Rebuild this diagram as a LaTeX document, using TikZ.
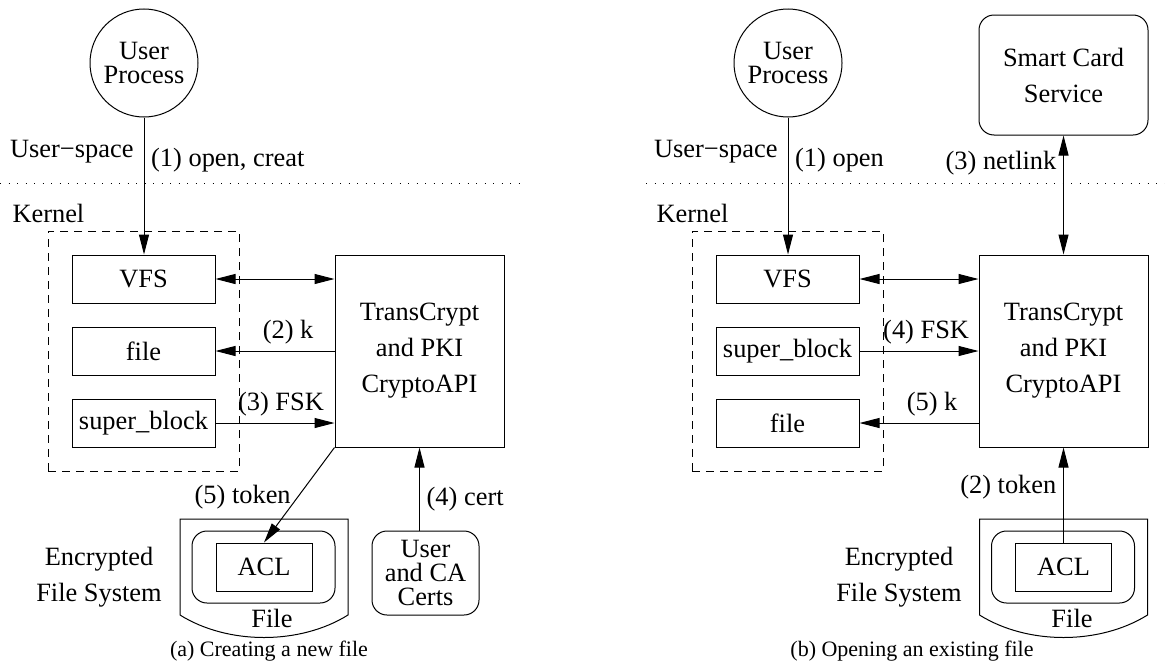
\documentclass[tikz,border=0pt]{standalone}
\usepackage{fontspec}
\setmainfont{Liberation Serif}
\usetikzlibrary{arrows.meta}

\newcommand{\figfont}{\fontsize{13.2}{18}\selectfont}
\newcommand{\figtight}{\fontsize{13.2}{12.2}\selectfont}
\newcommand{\capfont}{\fontsize{11}{13}\selectfont}

\tikzstyle{box} = [draw, minimum width=71.5pt, minimum height=24pt, inner sep=0pt]
\tikzstyle{crypto} = [draw, minimum width=84.5pt, minimum height=96pt, align=center]
\tikzstyle{proc} = [draw, circle, minimum size=54pt, inner sep=0pt, align=center, font=\figtight]
\tikzstyle{kern} = [draw, dash pattern=on 4pt off 3pt, minimum width=95.5pt, minimum height=120pt]
\tikzstyle{rbox} = [draw, rounded corners=7.5pt, inner sep=0pt, align=center]
\tikzstyle{txt} = [inner sep=0pt, align=center]
\tikzstyle{arr} = [-{Triangle[length=10pt,width=5pt]}]
\tikzstyle{biarr} = [{Triangle[length=10pt,width=5pt]}-{Triangle[length=10pt,width=5pt]}]
\tikzstyle{layerline} = [dash pattern=on 0.5pt off 3.75pt]

\begin{document}
\begin{tikzpicture}[x=0.5pt, y=-0.5pt, line width=0.5pt, font=\figfont]
\useasboundingbox (0,0) rectangle (1165,664);

% (a) creating a new file
\node[proc] (up1) at (144,63) {User\\Process};
\node[kern] (kern1) at (143.5,351) {};
\node[box] (vfs1) at (143.5,279) {VFS};
\node[box] (file1) at (143.5,351) {file};
\node[box] (sb1) at (143.5,423) {super\_block};
\node[crypto] (tc1) at (419.5,351) {TransCrypt\\and PKI\\CryptoAPI};
\node[rbox, minimum width=53.5pt, minimum height=42pt, font=\figtight] (certs) at (425.5,573) {User\\and CA\\Certs};
\node[rbox, minimum width=71.5pt, minimum height=36pt] (efsin1) at (263.5,567) {};
\node[box, minimum width=48pt] (acl1) at (264,567) {ACL};
\draw (180,519) -- (348,519) -- (348,615) .. controls (300,645) and (228,645) .. (180,615) -- cycle;
\node[txt] (filelbl1) at (272,618) {File};
\node[txt] (efs1) at (99,577) {Encrypted\\File System};
\node[txt, font=\capfont] (cap1) at (269,651) {(a) Creating a new file};
\node[txt, anchor=east] (us1) at (134,152) {User−space};
\node[txt, anchor=west] (kn1) at (12,213) {Kernel};
\draw[layerline] (0,183) -- (522,183);

\draw[arr] (up1.south) -- node[pos=0.31, right] {(1) open, creat} (up1.south |- vfs1.north);
\draw[biarr] (vfs1.east) -- (vfs1.east -| tc1.west);
\draw[arr] (file1.east -| tc1.west) -- node[pos=0.39, above] {(2) k} (file1.east);
\draw[arr] (sb1.east) -- node[pos=0.55, above] {(3) FSK} (sb1.east -| tc1.west);
\draw[arr] (certs.north -| tc1.south) -- node[pos=0.38, right] {(4) cert} (tc1.south);
\draw[arr] (tc1.south west) -- node[pos=0.52, left] {(5) token} (acl1.north);

% (b) opening an existing file
\node[proc] (up2) at (788,63) {User\\Process};
\node[rbox, minimum width=84.5pt, minimum height=60pt] (sc) at (1063.5,75) {Smart Card\\Service};
\node[kern] (kern2) at (787.5,351) {};
\node[box] (vfs2) at (787.5,279) {VFS};
\node[box] (sb2) at (787.5,351) {super\_block};
\node[box] (file2) at (787.5,423) {file};
\node[crypto] (tc2) at (1063.5,351) {TransCrypt\\and PKI\\CryptoAPI};
\node[rbox, minimum width=71.5pt, minimum height=36pt] (efsin2) at (1063,567) {};
\node[box, minimum width=48pt] (acl2) at (1063.5,567) {ACL};
\draw (979.5,519) -- (1147.5,519) -- (1147.5,615) .. controls (1099.5,645) and (1027.5,645) .. (979.5,615) -- cycle;
\node[txt] (filelbl2) at (1072,618) {File};
\node[txt] (efs2) at (899,577) {Encrypted\\File System};
\node[txt, font=\capfont] (cap2) at (912,651) {(b) Opening an existing file};
\node[txt, anchor=east] (us2) at (778,152) {User−space};
\node[txt, anchor=west] (kn2) at (656,213) {Kernel};
\draw[layerline] (646,183) -- (1165,183);

\draw[arr] (up2.south) -- node[pos=0.31, right] {(1) open} (up2.south |- vfs2.north);
\draw[biarr] (sc.south) -- node[pos=0.23, left] {(3) netlink} (tc2.north);
\draw[biarr] (vfs2.east) -- (vfs2.east -| tc2.west);
\draw[arr] (sb2.east) -- node[pos=0.56, above] {(4) FSK} (sb2.east -| tc2.west);
\draw[arr] (file2.east -| tc2.west) -- node[pos=0.39, above] {(5) k} (file2.east);
\draw[arr] (acl2.north) -- node[pos=0.58, left] {(2) token} (tc2.south);
\end{tikzpicture}
\end{document}
